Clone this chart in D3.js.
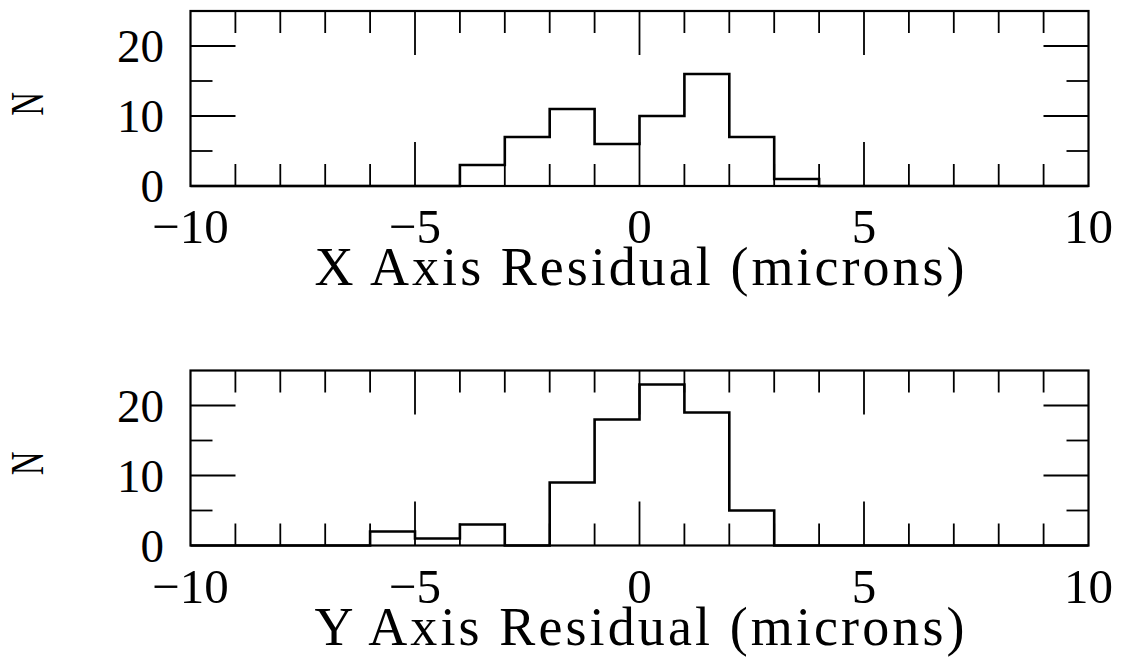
<!DOCTYPE html>
<html>
<head>
<meta charset="utf-8">
<script src="https://cdn.jsdelivr.net/npm/d3@7"></script>
<style>
  html, body { margin: 0; padding: 0; background: #fff; }
  svg { display: block; }
  text { font-family: "Liberation Serif", "DejaVu Serif", serif; fill: #000; }
</style>
</head>
<body>
<svg id="chart" width="1122" height="660"></svg>
<script>
// ---- data ----
const binEdges = [-10,-9,-8,-7,-6,-5,-4,-3,-2,-1,0,1,2,3,4,5,6,7,8,9,10];
const xResidualCounts = [0,0,0,0,0,0,3,7,11,6,10,16,7,1,0,0,0,0,0,0];
const yResidualCounts = [0,0,0,0,2,1,3,0,9,18,23,19,5,0,0,0,0,0,0,0];
const xTickLabels = ["\u221210", "\u22125", "0", "5", "10"];
const xTickValues = [-10, -5, 0, 5, 10];
const yTickLabels = ["0", "10", "20"];
const yTickValues = [0, 10, 20];
const panelTitles = ["X Axis Residual (microns)", "Y Axis Residual (microns)"];
const yAxisTitle = "N";

// ---- layout ----
const svg = d3.select("#chart");
const left = 190.5, right = 1088.5;
const panels = [
  { top: 11, bottom: 186, counts: xResidualCounts, title: panelTitles[0] },
  { top: 370.5, bottom: 545.5, counts: yResidualCounts, title: panelTitles[1] }
];

const x = d3.scaleLinear().domain([-10, 10]).range([left, right]);

panels.forEach(p => {
  const y = d3.scaleLinear().domain([0, 25]).range([p.bottom, p.top]);
  const g = svg.append("g");

  // ticks
  const xMinor = d3.range(-9, 10, 1);
  const yMinor = d3.range(5, 25, 5);
  const tickG = g.append("g").attr("stroke", "#000").attr("stroke-width", 1.8);
  xMinor.forEach(v => {
    const len = (v % 5 === 0) ? 44 : 22;
    tickG.append("line").attr("x1", x(v)).attr("x2", x(v)).attr("y1", y(0)).attr("y2", y(0) - len);
    tickG.append("line").attr("x1", x(v)).attr("x2", x(v)).attr("y1", y(25)).attr("y2", y(25) + len);
  });
  yMinor.forEach(v => {
    const len = (v % 10 === 0) ? 45 : 22;
    tickG.append("line").attr("y1", y(v)).attr("y2", y(v)).attr("x1", x(-10)).attr("x2", x(-10) + len);
    tickG.append("line").attr("y1", y(v)).attr("y2", y(v)).attr("x1", x(10)).attr("x2", x(10) - len);
  });

  // histogram
  const pts = binEdges.map((e, i) => [e, i < p.counts.length ? p.counts[i] : p.counts[p.counts.length - 1]]);
  const line = d3.line().x(d => x(d[0])).y(d => y(d[1])).curve(d3.curveStepAfter);
  g.append("path").attr("d", line(pts)).attr("fill", "none")
    .attr("stroke", "#000").attr("stroke-width", 2.6).attr("stroke-linejoin", "miter");

  // frame
  g.append("rect").attr("x", x(-10)).attr("y", y(25))
    .attr("width", x(10) - x(-10)).attr("height", y(0) - y(25))
    .attr("fill", "none").attr("stroke", "#000").attr("stroke-width", 2.2);

  // tick labels
  xTickValues.forEach((v, i) => g.append("text")
    .attr("x", x(v)).attr("y", p.bottom + 57)
    .attr("text-anchor", "middle").attr("font-size", 49)
    .text(xTickLabels[i]));
  yTickValues.forEach((v, i) => g.append("text")
    .attr("x", 164).attr("y", y(v) + 16)
    .attr("text-anchor", "end").attr("font-size", 47)
    .text(yTickLabels[i]));

  // titles
  g.append("text")
    .attr("x", (left + right) / 2 - 325).attr("y", p.bottom + 99)
    .attr("font-size", 54)
    .attr("textLength", 650).attr("lengthAdjust", "spacing")
    .text(p.title);
  g.append("text")
    .attr("transform", `translate(43,${(p.top + p.bottom) / 2 + 5.5}) rotate(-90) scale(0.7,1)`)
    .attr("text-anchor", "middle").attr("font-size", 47)
    .text(yAxisTitle);
});
</script>
</body>
</html>
